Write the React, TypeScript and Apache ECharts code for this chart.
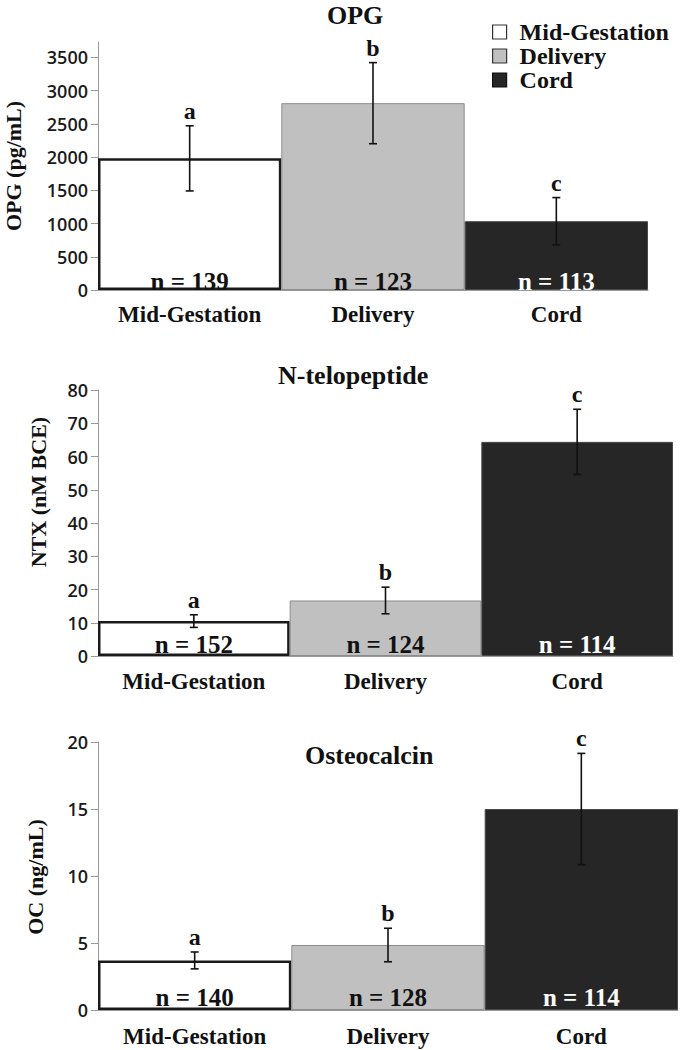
import React, { useEffect, useRef } from "react";
import * as echarts from "echarts";

// ---------- data ----------
const categories = ["Mid-Gestation", "Delivery", "Cord"];
const letters = ["a", "b", "c"];

const opgMean = [1980, 2810, 1035];
const opgErr = [490, 610, 355];
const opgN = [139, 123, 113];
const opgTicks = [0, 500, 1000, 1500, 2000, 2500, 3000, 3500];

const ntxMean = [10.5, 16.7, 64.4];
const ntxErr = [1.9, 4.0, 9.8];
const ntxN = [152, 124, 114];

const ocMean = [3.7, 4.85, 15.0];
const ocErr = [0.63, 1.25, 4.15];
const ocN = [140, 128, 114];

const titles = ["OPG", "N-telopeptide", "Osteocalcin"];
const yTitles = ["OPG (pg/mL)", "NTX (nM BCE)", "OC (ng/mL)"];

// ---------- styles / layout ----------
const SERIF = '"Liberation Serif", "Times New Roman", serif';
const SANS = '"Open Sans", "Noto Sans", sans-serif';
const fills = ["#ffffff", "#c0c0c0", "#262626"];
const borders = ["#1a1a1a", "#8c8c8c", "#4a4a4a"];
const borderWidths = [2.5, 1, 1];
const nColors = ["#111111", "#111111", "#ffffff"];

const panels = [
  { mean: opgMean, err: opgErr, n: opgN, max: 3730, interval: 500, ticks: opgTicks,
    grid: { left: 98, top: 42, width: 550, height: 248 }, nOffset: 4, xMargin: 13,
    title: { left: 327, top: 2 }, yTitle: { x: 13, y: 166 } },
  { mean: ntxMean, err: ntxErr, n: ntxN, max: 80, interval: 10, ticks: null,
    grid: { left: 98, top: 390, width: 575, height: 266 }, nOffset: 1, xMargin: 14,
    title: { left: 278, top: 362 }, yTitle: { x: 38, y: 492 } },
  { mean: ocMean, err: ocErr, n: ocN, max: 20, interval: 5, ticks: null,
    grid: { left: 98, top: 742, width: 580, height: 268 }, nOffset: 0, xMargin: 15,
    title: { left: 305, top: 742 }, yTitle: { x: 35, y: 877 } },
];

function buildOption() {
  const series: any[] = [];
  panels.forEach((p, pi) => {
    categories.forEach((cat, ci) => {
      series.push({
        type: "bar",
        name: cat,
        xAxisIndex: pi,
        yAxisIndex: pi,
        stack: "s" + pi,
        barCategoryGap: "0%",
        data: categories.map((_, k) => (k === ci ? p.mean[ci] : "-")),
        itemStyle: { color: fills[ci], borderColor: borders[ci], borderWidth: borderWidths[ci] },
        label: {
          show: true,
          position: "insideBottom",
          distance: 0,
          offset: [0, p.nOffset],
          formatter: "n = " + p.n[ci],
          color: nColors[ci],
          fontFamily: SERIF,
          fontWeight: "bold",
          fontSize: 25,
        },
      });
    });
    series.push({
      type: "custom",
      xAxisIndex: pi,
      yAxisIndex: pi,
      z: 10,
      clip: false,
      encode: { x: 0, y: [1, 2] },
      data: categories.map((_, k) => [k, p.mean[k] - p.err[k], p.mean[k] + p.err[k]]),
      renderItem: (params: any, api: any) => {
        const x = api.value(0);
        const hi = api.coord([x, api.value(2)]);
        const lo = api.coord([x, api.value(1)]);
        const cap = 4;
        const st = { stroke: "#111", lineWidth: 1.6 };
        return {
          type: "group",
          children: [
            { type: "line", shape: { x1: hi[0], y1: hi[1], x2: lo[0], y2: lo[1] }, style: st },
            { type: "line", shape: { x1: hi[0] - cap, y1: hi[1], x2: hi[0] + cap, y2: hi[1] }, style: st },
            { type: "line", shape: { x1: lo[0] - cap, y1: lo[1], x2: lo[0] + cap, y2: lo[1] }, style: st },
            {
              type: "text",
              x: hi[0],
              y: hi[1] - 3,
              style: {
                text: letters[params.dataIndex],
                fill: "#111",
                font: "bold 24px " + SERIF,
                align: "center",
                verticalAlign: "bottom",
              },
            },
          ],
        };
      },
    });
  });

  return {
    animation: false,
    backgroundColor: "#ffffff",
    title: panels.map((p, i) => ({
      text: titles[i],
      left: p.title.left,
      top: p.title.top,
      padding: 0,
      textStyle: { fontFamily: SERIF, fontWeight: "bold", fontSize: 26, color: "#111" },
    })),
    legend: {
      orient: "vertical",
      left: 492,
      top: 20,
      padding: 0,
      itemGap: 0,
      itemWidth: 14,
      itemHeight: 14,
      icon: "rect",
      data: categories.map((c, i) => ({
        name: c,
        itemStyle: { color: fills[i], borderColor: i === 2 ? "#111" : "#333", borderWidth: 1.2 },
      })),
      textStyle: {
        fontFamily: SERIF,
        fontWeight: "bold",
        fontSize: 24,
        lineHeight: 24,
        color: "#111",
        padding: [0, 0, 0, 8],
      },
    },
    grid: panels.map((p) => ({ ...p.grid, containLabel: false })),
    xAxis: panels.map((p, i) => ({
      type: "category",
      gridIndex: i,
      data: categories,
      axisLine: { lineStyle: { color: "#999", width: 1 } },
      axisTick: { show: false },
      axisLabel: {
        interval: 0,
        margin: p.xMargin,
        color: "#111",
        fontFamily: SERIF,
        fontWeight: "bold",
        fontSize: 23,
      },
    })),
    yAxis: panels.map((p, i) => {
      const ax: any = {
        type: "value",
        gridIndex: i,
        min: 0,
        max: p.max,
        interval: p.interval,
        splitLine: { show: false },
        axisLine: { show: true, lineStyle: { color: "#999", width: 1 } },
        axisTick: { show: true, length: 7, lineStyle: { color: "#999" } },
        axisLabel: {
          margin: 10,
          color: "#1a1a1a",
          fontFamily: SANS,
          fontWeight: 600,
          fontSize: 18,
          formatter: (v: number) => (v % p.interval === 0 ? String(v) : ""),
        },
      };
      if (p.ticks) {
        ax.axisLabel.customValues = p.ticks;
        ax.axisTick.customValues = p.ticks;
      }
      return ax;
    }),
    graphic: panels.map((p, i) => ({
      type: "text",
      x: p.yTitle.x,
      y: p.yTitle.y,
      rotation: Math.PI / 2,
      style: {
        text: yTitles[i],
        fill: "#111",
        font: "bold 22px " + SERIF,
        align: "center",
        verticalAlign: "middle",
      },
    })),
    series,
  };
}

export default function App() {
  const ref = useRef<HTMLDivElement>(null);
  useEffect(() => {
    if (!ref.current) return;
    const chart = echarts.init(ref.current, undefined, { renderer: "svg" });
    chart.setOption(buildOption() as any);
    return () => chart.dispose();
  }, []);
  return (
    <div
      ref={ref}
      style={{ position: "absolute", left: 0, top: 0, width: 681, height: 1050, background: "#fff" }}
    />
  );
}
